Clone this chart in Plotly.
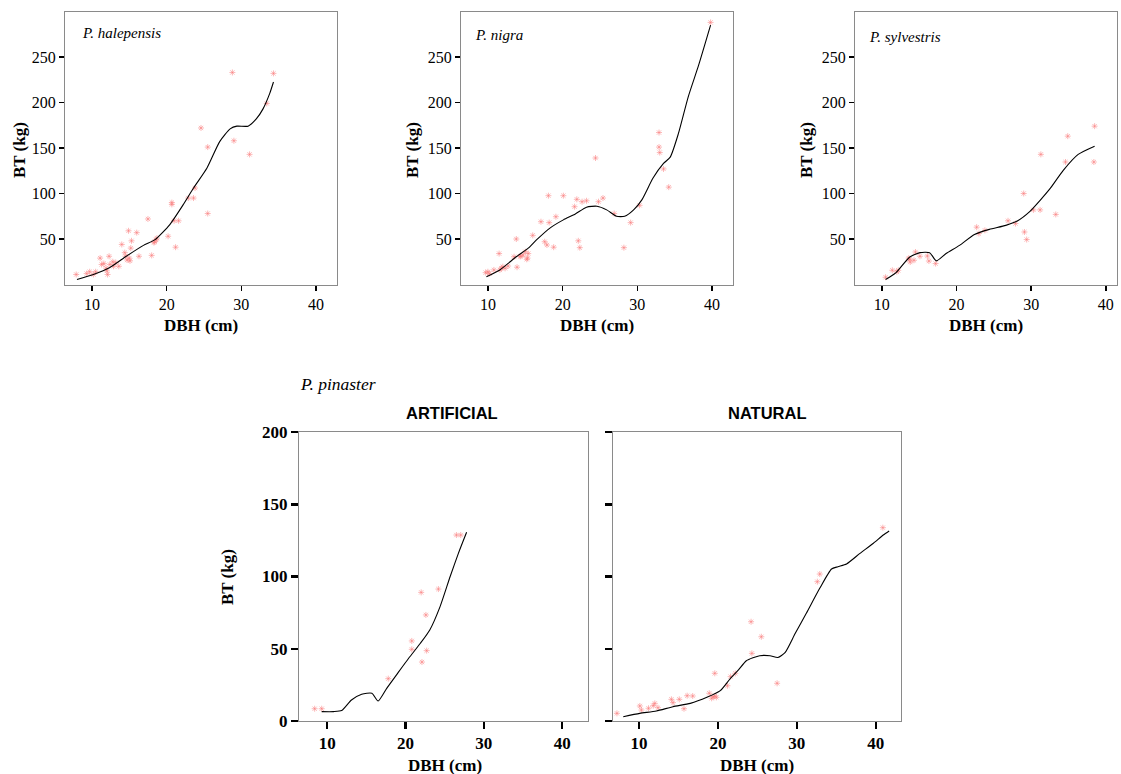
import plotly.graph_objects as go

# ---------------- data ----------------
hal_dbh = [7.9, 9.3, 9.7, 10.2, 10.5, 11.1, 11.3, 11.6, 12.0, 12.1, 12.3, 12.4, 12.8, 12.9, 13.6,
           14.0, 14.4, 14.5, 14.9, 15.0, 15.1, 15.2, 15.3, 16.0, 16.3, 17.5, 18.0, 18.3, 18.6, 18.7,
           20.2, 20.7, 20.7, 21.0, 21.2, 21.6, 22.9, 23.6, 23.8, 24.6, 25.5, 25.5, 28.8, 29.0, 31.1,
           33.4, 34.3, 11.9, 13.2, 14.7, 18.4]
hal_bt = [11, 12, 14, 11, 14, 29, 22, 23, 15, 11, 31, 22, 25, 20, 20,
          44, 35, 31, 59, 29, 26, 40, 48, 57, 31, 72, 32, 46, 49, 51,
          53, 90, 88, 70, 41, 70, 95, 95, 106, 172, 151, 78, 233, 158, 143,
          199, 232, 18, 24, 27, 47]
hal_fit_dbh = [8.0, 10.2, 12.4, 14.6, 16.9, 18.4, 20.4, 22.2, 23.6, 25.4, 27.1, 28.5, 29.4, 30.9, 32.0, 32.9, 33.8, 34.3]
hal_fit_bt = [5.5, 11, 18.6, 31, 43, 49, 65.6, 87.5, 106, 128, 157, 171, 174, 174, 182, 193, 210, 222.5]

nig_dbh = [9.7, 10.0, 10.2, 10.8, 11.5, 11.6, 11.8, 12.0, 12.3, 12.7, 13.5, 13.8, 13.9, 14.3, 14.4,
           14.7, 15.0, 15.2, 15.3, 15.4, 16.0, 17.1, 17.6, 17.9, 18.1, 18.2, 18.8, 19.1, 20.1, 21.6,
           21.9, 22.1, 22.3, 22.6, 23.2, 24.4, 24.8, 25.4, 26.9, 28.2, 29.1, 30.3, 32.9, 32.9, 33.0,
           33.5, 34.2, 39.8]
nig_bt = [13, 14, 12, 16, 34, 16, 18, 19.6, 17.8, 20.3, 30.5, 50, 19, 31, 31,
          32.4, 36, 27.7, 29, 34, 54, 69, 47, 43.4, 97.6, 68, 41, 74.5, 97.6, 85.5,
          93.6, 48, 40.5, 91, 92, 139, 91, 95, 78, 40.5, 68, 87, 167, 151, 145,
          127, 107, 288]
nig_fit_dbh = [9.8, 11.6, 13.8, 15.4, 16.5, 18.3, 20.1, 21.7, 23.2, 24.6, 25.9, 27.2, 28.3, 29.5, 30.6,
               32.1, 33.5, 34.4, 35.5, 36.8, 38.2, 39.8]
nig_fit_bt = [8.6, 16, 30.5, 40, 49, 62, 71, 77.5, 85, 86, 82, 75, 75, 82, 93,
              117, 133, 140, 166, 206, 241, 285]

syl_dbh = [10.5, 11.4, 12.0, 12.2, 13.7, 13.8, 14.3, 14.5, 15.1, 16.1, 16.3, 17.2, 22.7, 23.0, 23.8,
           26.9, 27.9, 29.0, 29.1, 29.4, 30.3, 31.2, 31.3, 33.3, 34.6, 34.9, 38.4, 38.5, 13.6]
syl_bt = [8, 15.6, 14, 15.6, 27.7, 24.7, 26.6, 35.7, 31, 31.3, 25.8, 23, 63, 56, 59.5,
          70, 67, 100, 57.7, 49.4, 82, 82, 143, 77, 134.6, 163, 134.6, 174, 29]
syl_fit_dbh = [10.5, 11.9, 13.7, 15.1, 16.4, 17.3, 18.6, 20.4, 22.4, 24.4, 26.6, 28.2, 29.8, 31.2, 32.5,
               34.3, 36.3, 38.5]
syl_fit_bt = [5.4, 13, 30, 35, 35, 26, 34, 43, 55, 60.6, 65, 70, 80, 92.5, 105,
              125.5, 143, 152]

art_dbh = [8.4, 9.3, 17.8, 20.8, 20.8, 22.0, 22.1, 22.6, 22.7, 24.2, 26.5, 27.05]
art_bt = [8.5, 8.5, 29.3, 55.4, 49.6, 89, 40.8, 73.4, 48.7, 91.3, 128.7, 128.7]
art_fit_dbh = [9.3, 10.8, 11.85, 13.1, 14.4, 15.7, 16.5, 17.6, 18.9, 20.4, 21.9, 23.1, 24.4, 25.7, 26.75, 27.8]
art_fit_bt = [6.5, 6.5, 7.2, 14.5, 18.5, 19.2, 13.8, 22.6, 32.3, 43.4, 53.8, 63, 79, 100, 116, 130.6]

nat_dbh = [7.2, 10.1, 10.3, 11.2, 11.8, 12.0, 12.4, 14.1, 14.3, 15.1, 15.7, 16.1, 16.8, 18.9, 19.2,
           19.4, 19.6, 19.6, 19.8, 21.2, 21.6, 22.2, 24.2, 24.3, 25.5, 27.5, 32.6, 32.9, 40.9]
nat_bt = [5.3, 10.4, 7.6, 8.8, 10.6, 12.2, 9.2, 15, 12.7, 15, 8.5, 17.5, 17.3, 19.2, 15.7,
          16.8, 33, 17.3, 16.4, 24.4, 30.7, 33, 68.7, 46.8, 58.3, 26.1, 96.4, 101.7, 133.8]
nat_fit_dbh = [8.0, 10.1, 12.2, 14.3, 16.5, 18.6, 20.3, 21.5, 22.6, 23.6, 25.3, 26.6, 27.6, 28.5, 29.8,
               31.2, 32.9, 34.4, 35.2, 36.3, 38.0, 39.7, 40.95, 41.7]
nat_fit_bt = [3, 5.3, 6.9, 9.9, 12.2, 16.4, 21, 28.9, 35.3, 41.7, 45.2, 45.2, 44, 47.3, 60.7,
              74.5, 91.8, 105.2, 106.8, 108.7, 116, 123, 128.7, 131.5]

x_ticks = [10, 20, 30, 40]
top_y_ticks = [50, 100, 150, 200, 250]
bot_y_ticks = [0, 50, 100, 150, 200]

# ---------------- layout helpers ----------------
W, H = 1121, 774


def dx(a, b):
    return [a / W, b / W]


def dy(top, bottom):
    return [1 - bottom / H, 1 - top / H]


def px(x):
    return x / W


def py(y):
    return 1 - y / H


SERIF = "Liberation Serif, Times New Roman, serif"
SANS = "Liberation Sans, Arial, sans-serif"
MARK = dict(symbol="asterisk-open", size=5, color="rgba(250,125,125,0.55)",
            line=dict(color="rgba(250,125,125,0.55)", width=1))

fig = go.Figure()

panels = [
    ("x", "y", hal_dbh, hal_bt, hal_fit_dbh, hal_fit_bt),
    ("x2", "y2", nig_dbh, nig_bt, nig_fit_dbh, nig_fit_bt),
    ("x3", "y3", syl_dbh, syl_bt, syl_fit_dbh, syl_fit_bt),
    ("x4", "y4", art_dbh, art_bt, art_fit_dbh, art_fit_bt),
    ("x5", "y5", nat_dbh, nat_bt, nat_fit_dbh, nat_fit_bt),
]
for xa, ya, sx, sy, fx, fy in panels:
    fig.add_trace(go.Scatter(x=sx, y=sy, mode="markers", marker=MARK, xaxis=xa, yaxis=ya,
                             showlegend=False, hoverinfo="skip"))
    fig.add_trace(go.Scatter(x=fx, y=fy, mode="lines",
                             line=dict(color="black", width=1.1, shape="spline", smoothing=0.6),
                             xaxis=xa, yaxis=ya, showlegend=False, hoverinfo="skip"))


def tfont(bold, size):
    f = dict(family=SERIF, size=size, color="black")
    if bold:
        f["weight"] = "bold"
    return f


def xaxis(dom, rng, anchor, bold=False, tl=5, tw=1.5):
    return dict(domain=dom, range=rng, anchor=anchor, tickvals=x_ticks, ticks="outside",
                ticklen=tl, tickwidth=tw, tickcolor="black", showline=True, mirror=True,
                linecolor="#8a8a8a", linewidth=1, showgrid=False, zeroline=False,
                automargin=False, ticklabeloverflow="allow",
                tickfont=tfont(bold, 17 if bold else 16), fixedrange=True)


def yaxis(dom, rng, anchor, ticks, labels=True, bold=False, tl=5, tw=1.5):
    return dict(domain=dom, range=rng, anchor=anchor, tickvals=ticks, ticks="outside",
                ticklen=tl, tickwidth=tw, tickcolor="black", showline=True, mirror=True,
                linecolor="#8a8a8a", linewidth=1, showgrid=False, zeroline=False,
                showticklabels=labels, automargin=False, ticklabeloverflow="allow",
                tickfont=tfont(bold, 17 if bold else 16), fixedrange=True)


top_dom = dy(11.5, 284.5)
bot_dom = dy(432, 721)

fig.update_layout(
    template="none",
    width=W, height=H, margin=dict(l=0, r=0, t=0, b=0, pad=0), autosize=False,
    paper_bgcolor="white", plot_bgcolor="white",
    font=dict(family=SERIF, color="black"),
    xaxis=xaxis(dx(65, 337), [6.4, 42.8], "y"),
    yaxis=yaxis(top_dom, [0, 300], "x", top_y_ticks),
    xaxis2=xaxis(dx(461, 733), [6.4, 42.8], "y2"),
    yaxis2=yaxis(top_dom, [0, 300], "x2", top_y_ticks),
    xaxis3=xaxis(dx(855, 1117), [6.4, 41.5], "y3"),
    yaxis3=yaxis(top_dom, [0, 300], "x3", top_y_ticks),
    xaxis4=xaxis(dx(299, 588), [6.4, 43.3], "y4", bold=True, tl=7, tw=2.5),
    yaxis4=yaxis(bot_dom, [0, 200], "x4", bot_y_ticks, bold=True, tl=7, tw=2.5),
    xaxis5=xaxis(dx(613, 901), [6.7, 43.2], "y5", bold=True, tl=7, tw=2.5),
    yaxis5=yaxis(bot_dom, [0, 200], "x5", bot_y_ticks, labels=False, tl=7, tw=2.5),
)

ann = []


def text(t, x, y, size, bold=False, italic=False, family=SERIF, angle=0, xanchor="center"):
    s = t
    if bold:
        s = "<b>" + s + "</b>"
    if italic:
        s = "<i>" + s + "</i>"
    ann.append(dict(text=s, x=px(x), y=py(y), xref="paper", yref="paper", showarrow=False,
                    xanchor=xanchor, yanchor="middle", textangle=angle, borderpad=0,
                    font=dict(family=family, size=size, color="black")))


# panel titles
text("P. halepensis", 81, 33, 15, italic=True, xanchor="left")
text("P. nigra", 474, 35, 15, italic=True, xanchor="left")
text("P. sylvestris", 868, 37, 15, italic=True, xanchor="left")
# axis titles top
for cx in (201, 597, 986):
    text("DBH (cm)", cx, 325, 17, bold=True)
for cx in (19, 412, 806):
    text("BT (kg)", cx, 150, 17, bold=True, angle=-90)
# bottom
text("P. pinaster", 299, 384, 17.5, italic=True, xanchor="left")
text("ARTIFICIAL", 452, 413, 16.5, bold=True, family=SANS)
text("NATURAL", 767, 413, 16.5, bold=True, family=SANS)
text("DBH (cm)", 445, 765, 17, bold=True)
text("DBH (cm)", 757, 765, 17, bold=True)
text("BT (kg)", 227, 577, 17, bold=True, angle=-90)

fig.update_layout(annotations=ann)

fig.write_html("out.html", config={"displayModeBar": False, "staticPlot": True},
               post_script="document.body.style.margin='0';document.body.style.overflow='hidden';")
